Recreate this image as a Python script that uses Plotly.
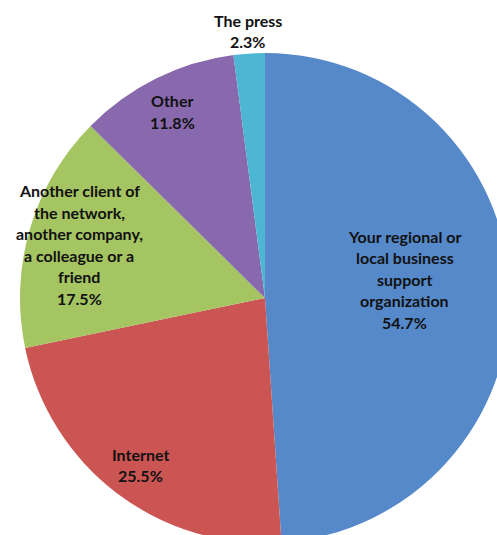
import math
import plotly.graph_objects as go

# Where the respondents heard about the network
labels = [
    "Your regional or<br>local business<br>support<br>organization",
    "Internet",
    "Another client of<br>the network,<br>another company,<br>a colleague or a<br>friend",
    "Other",
    "The press",
]
values = [54.7, 25.5, 17.5, 11.8, 2.3]
colors = ["#5589C9", "#CB5553", "#A5C462", "#8869AE", "#4DB6D2"]
# label placement: distance from the centre as a fraction of the radius,
# plus a small vertical nudge in pixels
label_radius = [0.57, 0.84, 0.79, 0.85, 1.10]
label_nudge = [-14, 3, 1, 0, 2]

W, H = 520, 550
L, R, T, B = 20, 10, 53, 7

fig = go.Figure(
    go.Pie(
        labels=[l.replace("<br>", " ") for l in labels],
        values=values,
        sort=False,
        direction="clockwise",
        rotation=0,
        textinfo="none",
        hoverinfo="label+value",
        marker=dict(colors=colors, line=dict(width=0)),
        showlegend=False,
    )
)

# labels sit on the middle angle of each slice, measured clockwise from 12 o'clock
total = sum(values)
line_h = 21.5
start = 0.0
annotations = []
for lab, val, rf, dy in zip(labels, values, label_radius, label_nudge):
    span = val / total * 360
    mid = math.radians(start + span / 2)
    start += span
    cx = 0.5 + 0.5 * rf * math.sin(mid)
    cy = 0.5 + 0.5 * rf * math.cos(mid)
    lines = lab.split("<br>") + [f"{val:.1f}%"]
    n = len(lines)
    for i, txt in enumerate(lines):
        annotations.append(
            dict(
                x=cx, y=cy, xref="paper", yref="paper",
                text=txt, showarrow=False,
                xanchor="center", yanchor="middle",
                yshift=((n - 1) / 2 - i) * line_h - dy,
                font=dict(family="Lato", size=16, color="#111111", weight="bold"),
            )
        )

fig.update_layout(
    width=W, height=H,
    margin=dict(l=L, r=R, t=T, b=B, pad=0),
    paper_bgcolor="white",
    plot_bgcolor="white",
    annotations=annotations,
)

fig.write_html(
    "out.html",
    post_script="document.body.style.margin='0';document.body.style.overflow='hidden';document.documentElement.style.overflow='hidden';",
)
